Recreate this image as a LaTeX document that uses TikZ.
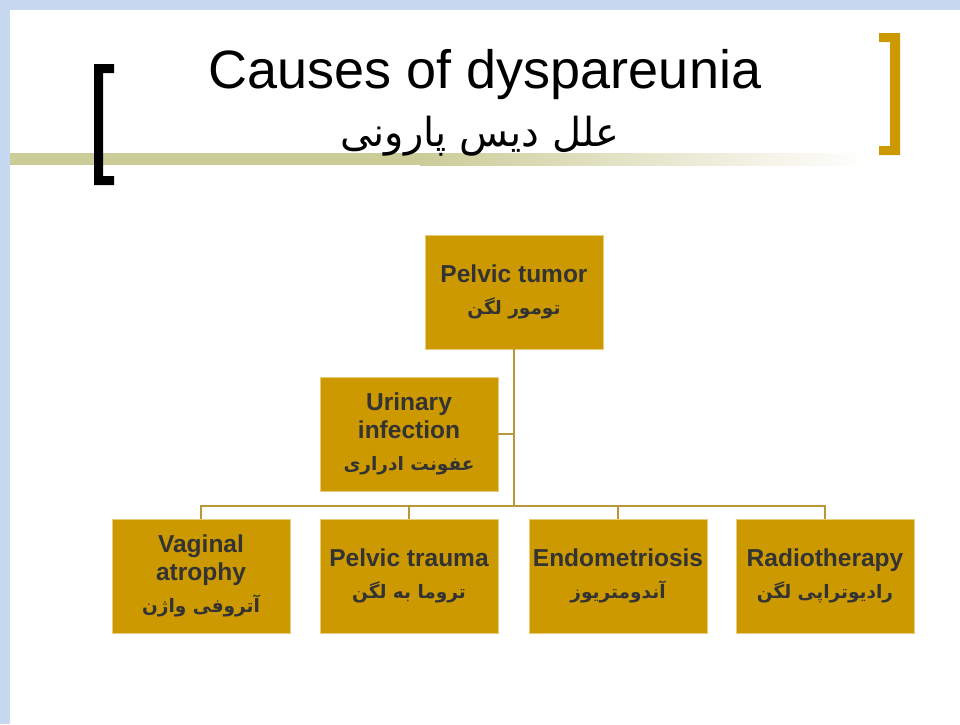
\documentclass[tikz,border=0pt]{standalone}
\usepackage{fontspec}
\setmainfont{Liberation Sans}
\newfontfamily\fa[Script=Arabic]{DejaVu Sans}
\TeXXeTstate=1
\definecolor{bgblue}{HTML}{C6D9F1}
\definecolor{gold}{HTML}{CC9900}
\definecolor{boxedge}{HTML}{E8CC78}
\definecolor{linecol}{HTML}{B8963A}
\definecolor{barcol}{HTML}{CCCC99}
\definecolor{txt}{HTML}{333333}
\tikzset{
  box/.style={draw=boxedge, line width=0.8pt, fill=gold, minimum width=178pt, minimum height=114pt,
    inner sep=0pt, text=txt, align=center, font=\bfseries\fontsize{24.5}{28}\selectfont},
  conn/.style={draw=linecol, line width=1.8pt}
}
\newcommand{\fatxt}[1]{{\fa\bfseries\fontsize{18.5}{20}\selectfont\beginR #1\endR}}
\begin{document}
\begin{tikzpicture}[x=1pt,y=-1pt]
\useasboundingbox (0,0) rectangle (960,724);
\fill[bgblue] (0,0) rectangle (960,724);
\fill[white] (10,10) rectangle (960,724);
% gradient bar
\fill[barcol] (10,153) rectangle (420,165);
\shade[left color=barcol, right color=white] (420,153) rectangle (870,165);
% brackets
\fill[black] (94,64) -- (114,64) -- (114,73) -- (103,73) -- (103,176) -- (114,176) -- (114,185) -- (94,185) -- cycle;
\fill[gold] (879,33) -- (900,33) -- (900,155) -- (879,155) -- (879,146) -- (890,146) -- (890,42) -- (879,42) -- cycle;
% titles
\node[font=\fontsize{54}{56}\selectfont, inner sep=0pt, anchor=base] (title) at (485,88) {Causes of dyspareunia};
\node[font=\fa\fontsize{40}{44}\selectfont, inner sep=0pt, anchor=base] (ftitle) at (480,146) {\beginR علل دیس پارونی\endR};
% boxes
\node[box] (pt) at (514,292) {Pelvic tumor\\[4pt]\fatxt{تومور لگن}};
\node[box] (ui) at (409,434) {Urinary\\infection\\[4pt]\fatxt{عفونت ادراری}};
\node[box] (va) at (201,576) {Vaginal\\atrophy\\[4pt]\fatxt{آتروفی واژن}};
\node[box] (pr) at (409,576) {Pelvic trauma\\[4pt]\fatxt{تروما به لگن}};
\node[box] (en) at (618,576) {Endometriosis\\[4pt]\fatxt{آندومتریوز}};
\node[box] (rt) at (825,576) {Radiotherapy\\[4pt]\fatxt{رادیوتراپی لگن}};
% connectors
\draw[conn] (pt.south) -- ([yshift=13pt]pt.south |- va.north);
\draw[conn] (ui.east) -- (ui.east -| pt.south);
\draw[conn] (va.north) -- ++(0,-13) -| (rt.north);
\draw[conn] (pr.north) -- ++(0,-13);
\draw[conn] (en.north) -- ++(0,-13);
\end{tikzpicture}
\end{document}
